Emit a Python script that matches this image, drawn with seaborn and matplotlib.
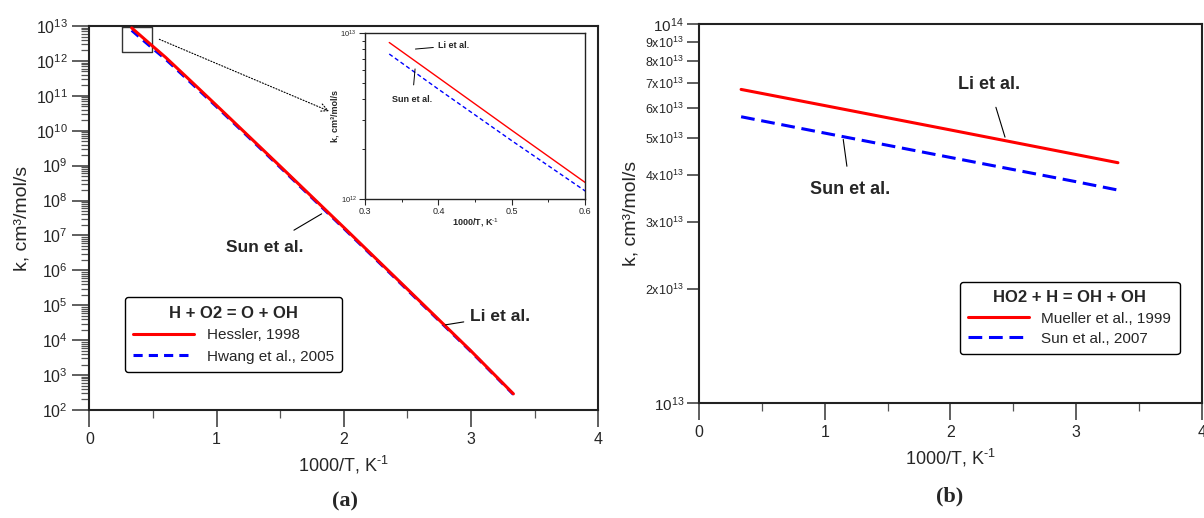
import numpy as np
import pandas as pd
import matplotlib
matplotlib.use("Agg")
import matplotlib.pyplot as plt
import matplotlib.ticker as mticker
import seaborn as sns

# ---- data ----
# (a) H + O2 = O + OH
inv_t_a = [0.333, 0.4, 0.5, 0.6, 0.8, 1.0, 1.5, 2.0, 2.5, 3.0, 3.333]
k_hessler = [8.8e12, 5.4e12, 2.6e12, 1.26e12, 2.6e11, 5.3e10, 9.6e8, 1.7e7, 2.9e5, 4.9e3, 2.9e2]
k_hwang = [7.5e12, 4.6e12, 2.25e12, 1.12e12, 2.35e11, 4.9e10, 9.0e8, 1.6e7, 2.75e5, 4.7e3, 2.8e2]

# (b) HO2 + H = OH + OH
inv_t_b = [0.333, 1.0, 2.0, 3.0, 3.333]
k_mueller = [6.73e13, 6.10e13, 5.26e13, 4.53e13, 4.31e13]
k_sun = [5.70e13, 5.16e13, 4.45e13, 3.84e13, 3.65e13]

yticks_b = [1e13, 2e13, 3e13, 4e13, 5e13, 6e13, 7e13, 8e13, 9e13, 1e14]
yticklabels_b = [r"$\mathdefault{10^{13}}$", r"$\mathdefault{2x10^{13}}$", r"$\mathdefault{3x10^{13}}$",
                 r"$\mathdefault{4x10^{13}}$", r"$\mathdefault{5x10^{13}}$", r"$\mathdefault{6x10^{13}}$",
                 r"$\mathdefault{7x10^{13}}$", r"$\mathdefault{8x10^{13}}$", r"$\mathdefault{9x10^{13}}$",
                 r"$\mathdefault{10^{14}}$"]

df_a = pd.DataFrame({"x": inv_t_a, "hessler": k_hessler, "hwang": k_hwang})
df_b = pd.DataFrame({"x": inv_t_b, "mueller": k_mueller, "sun": k_sun})

sns.set_style("ticks")
plt.rcParams["font.family"] = ["Liberation Sans", "DejaVu Sans"]
plt.rcParams["mathtext.fontset"] = "custom"
plt.rcParams["mathtext.rm"] = "Liberation Sans"
plt.rcParams["mathtext.it"] = "Liberation Sans:italic"
plt.rcParams["mathtext.bf"] = "Liberation Sans:bold"

xlabel = r"1000/T, K$^{\text{-1}}$"
ylabel = "k, cm³/mol/s"

fig = plt.figure(figsize=(12.04, 5.18), dpi=100)
ax1 = fig.add_axes([0.0742, 0.2085, 0.4227, 0.7413])
ax2 = fig.add_axes([0.5808, 0.2220, 0.4173, 0.7311])
axi = fig.add_axes([0.3032, 0.6158, 0.1827, 0.3199])


def style_axis(ax, lw=1.5):
    for s in ax.spines.values():
        s.set_linewidth(lw)
        s.set_color("#222222")


# -------- panel (a) --------
ax1.set_yscale("log")
sns.lineplot(data=df_a, x="x", y="hessler", ax=ax1, color="red", lw=2.2,
             label="Hessler, 1998", zorder=3)
sns.lineplot(data=df_a, x="x", y="hwang", ax=ax1, color="blue", lw=2.2,
             linestyle=(0, (3, 2)), label="Hwang et al., 2005", zorder=2)
ax1.set_xlim(0, 4)
ax1.set_ylim(1e2, 1e13)
ax1.xaxis.set_major_locator(mticker.MultipleLocator(1))
ax1.xaxis.set_minor_locator(mticker.MultipleLocator(0.5))
ax1.yaxis.set_major_locator(mticker.LogLocator(base=10, numticks=20))
ax1.yaxis.set_minor_locator(mticker.LogLocator(base=10, subs=np.arange(2, 10), numticks=20))
ax1.yaxis.set_minor_formatter(mticker.NullFormatter())
ax1.tick_params(which="major", direction="out", length=12, width=1.2, labelsize=11.5, color="#444444")
ax1.tick_params(which="minor", direction="out", length=6, width=0.9, color="#555555")
ax1.set_xlabel(xlabel, fontsize=13, labelpad=5)
ax1.set_ylabel(ylabel, fontsize=14, labelpad=4)
style_axis(ax1)

leg1 = ax1.legend(title="H + O2 = O + OH", loc="upper left", bbox_to_anchor=(0.070, 0.294),
                  borderaxespad=0, fontsize=11, title_fontproperties={"weight": "bold", "size": 12},
                  handlelength=4.0, borderpad=0.55, labelspacing=0.5,
                  frameon=True, fancybox=True, edgecolor="black", framealpha=1)
leg1.get_frame().set_linewidth(1.0)

ax1.annotate("Sun et al.", xy=(1.826, 10**7.62), xytext=(1.38, 10**6.66),
             fontsize=12.5, fontweight="bold", ha="center", va="center",
             arrowprops=dict(arrowstyle="-", color="black", lw=0.8, shrinkA=9, shrinkB=0))
ax1.annotate("Li et al.", xy=(2.80, 10**4.44), xytext=(2.99, 10**4.69),
             fontsize=12.5, fontweight="bold", ha="left", va="center",
             arrowprops=dict(arrowstyle="-", color="black", lw=0.8, shrinkA=2, shrinkB=0))

# zoom marker box and arrow
ax1.plot([0.255, 0.49, 0.49, 0.255, 0.255],
         [9.2e12, 9.2e12, 1.75e12, 1.75e12, 9.2e12], color="#333333", lw=1.0)
ax1.annotate("", xy=(1.904, 10**10.53), xytext=(0.53, 10**12.65),
             arrowprops=dict(arrowstyle="->", color="black", lw=0.8, linestyle=":",
                             mutation_scale=14))

# -------- inset --------
axi.set_yscale("log")
sns.lineplot(data=df_a, x="x", y="hessler", ax=axi, color="red", lw=1.0, legend=False)
sns.lineplot(data=df_a, x="x", y="hwang", ax=axi, color="blue", lw=1.0,
             linestyle=(0, (3, 2)), legend=False)
axi.set_xlim(0.3, 0.6)
axi.set_ylim(1e12, 1e13)
axi.xaxis.set_major_locator(mticker.MultipleLocator(0.1))
axi.xaxis.set_minor_locator(mticker.MultipleLocator(0.05))
axi.xaxis.set_major_formatter(mticker.FormatStrFormatter("%.1f"))
axi.yaxis.set_major_locator(mticker.LogLocator(base=10, numticks=5))
axi.yaxis.set_minor_locator(mticker.LogLocator(base=10, subs=np.arange(2, 10), numticks=5))
axi.yaxis.set_minor_formatter(mticker.NullFormatter())
axi.tick_params(which="major", direction="out", length=4, width=0.8, labelsize=6.5, pad=2)
axi.tick_params(axis="y", which="major", labelsize=5.5)
axi.tick_params(which="minor", direction="out", length=2.5, width=0.7)
axi.set_xlabel(xlabel, fontsize=6.5, fontweight="bold", labelpad=0)
axi.set_ylabel(ylabel, fontsize=6.5, fontweight="bold", labelpad=1)
style_axis(axi, lw=1.0)
axi.annotate("Li et al.", xy=(0.3687, 10**12.905), xytext=(0.3995, 10**12.925),
             fontsize=6.5, fontweight="bold", ha="left", va="center",
             arrowprops=dict(arrowstyle="-", color="black", lw=0.7, shrinkA=1, shrinkB=0))
axi.annotate("Sun et al.", xy=(0.3682, 10**12.785), xytext=(0.3645, 10**12.60),
             fontsize=6.5, fontweight="bold", ha="center", va="center",
             arrowprops=dict(arrowstyle="-", color="black", lw=0.7, shrinkA=5, shrinkB=0))

# -------- panel (b) --------
ax2.set_yscale("log")
sns.lineplot(data=df_b, x="x", y="mueller", ax=ax2, color="red", lw=2.2,
             label="Mueller et al., 1999")
sns.lineplot(data=df_b, x="x", y="sun", ax=ax2, color="blue", lw=2.2,
             linestyle=(0, (4.5, 2.2)), label="Sun et al., 2007")
ax2.set_xlim(0, 4)
ax2.set_ylim(1e13, 1e14)
ax2.xaxis.set_major_locator(mticker.MultipleLocator(1))
ax2.xaxis.set_minor_locator(mticker.MultipleLocator(0.5))
ax2.yaxis.set_major_locator(mticker.FixedLocator(yticks_b))
ax2.yaxis.set_major_formatter(mticker.FixedFormatter(yticklabels_b))
ax2.yaxis.set_minor_locator(mticker.NullLocator())
ax2.tick_params(which="major", direction="out", length=12, width=1.2, labelsize=11.5, color="#444444")
ax2.tick_params(axis="y", which="major", labelsize=9, length=9, pad=2)
ax2.tick_params(which="minor", direction="out", length=6, width=0.9, color="#555555")
ax2.set_xlabel(xlabel, fontsize=13, labelpad=5)
ax2.set_ylabel(ylabel, fontsize=14, labelpad=4)
style_axis(ax2)
# the decade labels are printed a little larger than the in-between ones
fig.canvas.draw()
ylabs = ax2.get_yticklabels()
ylabs[0].set_fontsize(11)
ylabs[-1].set_fontsize(11)

leg2 = ax2.legend(title="HO2 + H = OH + OH", loc="upper left", bbox_to_anchor=(0.518, 0.3195),
                  borderaxespad=0, fontsize=11, title_fontproperties={"weight": "bold", "size": 12},
                  handlelength=4.0, borderpad=0.55, labelspacing=0.4,
                  frameon=True, fancybox=True, edgecolor="black", framealpha=1)
leg2.get_frame().set_linewidth(1.0)

ax2.annotate("Li et al.", xy=(2.434, 10**13.702), xytext=(2.307, 10**13.84),
             fontsize=13, fontweight="bold", ha="center", va="center",
             arrowprops=dict(arrowstyle="-", color="black", lw=0.8, shrinkA=8, shrinkB=0))
ax2.annotate("Sun et al.", xy=(1.146, 10**13.696), xytext=(1.2, 10**13.565),
             fontsize=13, fontweight="bold", ha="center", va="center",
             arrowprops=dict(arrowstyle="-", color="black", lw=0.8, shrinkA=8, shrinkB=0))

# panel letters
fig.text(0.2865, 0.012, "(a)", fontsize=16, fontweight="bold", family="Liberation Serif",
         ha="center", va="bottom")
fig.text(0.789, 0.022, "(b)", fontsize=16, fontweight="bold", family="Liberation Serif",
         ha="center", va="bottom")

fig.savefig("out.png", dpi=100)
